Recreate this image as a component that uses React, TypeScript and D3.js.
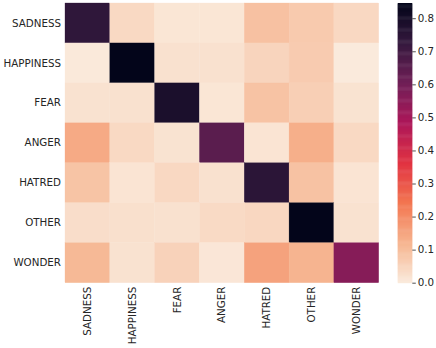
import React, { useEffect, useRef } from 'react';
import * as d3 from 'd3';

const labels = ['SADNESS', 'HAPPINESS', 'FEAR', 'ANGER', 'HATRED', 'OTHER', 'WONDER'];

// confusion matrix rows (true) x columns (predicted)
const sadness = [0.74, 0.04, 0.012, 0.012, 0.092, 0.073, 0.042];
const happiness = [0.005, 0.846, 0.022, 0.022, 0.05, 0.07, 0.002];
const fear = [0.02, 0.022, 0.787, 0.012, 0.088, 0.062, 0.018];
const anger = [0.14, 0.04, 0.018, 0.65, 0.015, 0.13, 0.04];
const hatred = [0.086, 0.015, 0.042, 0.022, 0.75, 0.09, 0.015];
const other = [0.03, 0.025, 0.022, 0.037, 0.044, 0.846, 0.02];
const wonder = [0.11, 0.02, 0.055, 0.01, 0.156, 0.12, 0.56];
const matrix = [sadness, happiness, fear, anger, hatred, other, wonder];

const cbTicks = [0, 0.1, 0.2, 0.3, 0.4, 0.5, 0.6, 0.7, 0.8];
const vmax = 0.846;

// seaborn rocket, reversed
const rocketStops = ['#03051a', '#35193e', '#701f57', '#ad1759', '#e13342', '#f37651', '#f6b48f', '#faebdd'];

const App = () => {
    const svgRef = useRef(null);

    useEffect(() => {
        const svg = d3.select(svgRef.current);
        svg.selectAll('*').remove();

        const rocket = d3.scaleLinear<string>()
            .domain([0, 1 / 7, 2 / 7, 3 / 7, 4 / 7, 5 / 7, 6 / 7, 1])
            .range(rocketStops)
            .interpolate(d3.interpolateRgb);
        const color = (v) => rocket(1 - Math.min(v, vmax) / vmax);

        const left = 65, right = 378.7, top = 3, bottom = 282.7;

        const x = d3.scaleBand().domain(labels).range([left, right]);
        const y = d3.scaleBand().domain(labels).range([top, bottom]);

        const cells = [];
        matrix.forEach((row, i) => row.forEach((v, j) => cells.push({ r: labels[i], c: labels[j], v })));

        svg.append('g')
            .selectAll('rect')
            .data(cells)
            .join('rect')
            .attr('x', d => x(d.c))
            .attr('y', d => y(d.r))
            .attr('width', x.bandwidth())
            .attr('height', y.bandwidth())
            .attr('fill', d => color(d.v))
            .attr('stroke', d => color(d.v))
            .attr('stroke-width', 0.3);

        const font = 'DejaVu Sans, sans-serif';

        // y labels
        svg.append('g')
            .selectAll('text')
            .data(labels)
            .join('text')
            .attr('x', left - 4)
            .attr('y', d => y(d) + y.bandwidth() / 2)
            .attr('dy', '0.35em')
            .attr('text-anchor', 'end')
            .attr('font-family', font)
            .attr('font-size', 10.3)
            .attr('fill', '#262626')
            .text(d => d);

        // x labels, rotated
        svg.append('g')
            .selectAll('text')
            .data(labels)
            .join('text')
            .attr('transform', d => `translate(${x(d) + x.bandwidth() / 2},${bottom + 4}) rotate(-90)`)
            .attr('dy', '0.35em')
            .attr('text-anchor', 'end')
            .attr('font-family', font)
            .attr('font-size', 10.3)
            .attr('fill', '#262626')
            .text(d => d);

        // colorbar
        const cbX = 397.7, cbW = 14.6;
        const cbY = d3.scaleLinear().domain([0, vmax]).range([bottom, top]);
        const steps = d3.range(0, 256);
        svg.append('g')
            .selectAll('rect')
            .data(steps)
            .join('rect')
            .attr('x', cbX)
            .attr('y', i => cbY(((i + 1) / 256) * vmax))
            .attr('width', cbW)
            .attr('height', (bottom - top) / 256 + 0.5)
            .attr('fill', i => color(((i + 0.5) / 256) * vmax));

        const ax = svg.append('g')
            .attr('transform', `translate(${cbX + cbW},0)`)
            .call(d3.axisRight(cbY).tickValues(cbTicks).tickFormat(d3.format('.1f')).tickSize(3.5).tickPadding(2));
        ax.select('.domain').remove();
        ax.selectAll('line').attr('stroke', '#262626').attr('stroke-width', 0.8);
        ax.selectAll('text')
            .attr('font-family', font)
            .attr('font-size', 10.3)
            .attr('fill', '#262626');
    }, []);

    return <svg ref={svgRef} width={436} height={348} style={{ display: 'block', position: 'absolute', left: 0, top: 0 }}></svg>;
};

export default App;
